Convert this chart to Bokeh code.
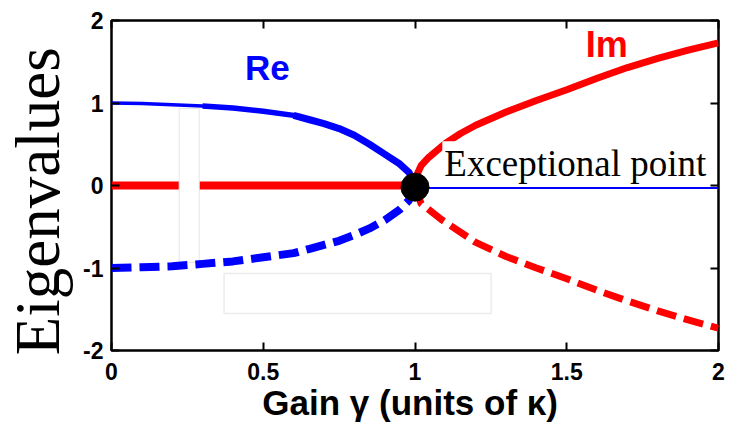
import math
from bokeh.plotting import figure
from bokeh.models import Range1d, LinearAxis, Label, FixedTicker, NumeralTickFormatter
from bokeh.embed import file_html
from bokeh.resources import INLINE

# ---- data ----
x_ticks = [0, 0.5, 1, 1.5, 2]
y_ticks = [-2, -1, 0, 1, 2]

gamma_below = [0.0, 0.1, 0.2, 0.3, 0.4, 0.5, 0.6, 0.65, 0.7, 0.75, 0.8, 0.85, 0.9, 0.95, 0.98, 1.0]
re_upper = [1.0, 0.995, 0.98, 0.965, 0.94, 0.90, 0.85, 0.80, 0.75, 0.69, 0.61, 0.50, 0.38, 0.26, 0.16, 0.0]
re_lower = [-1.0, -0.99, -0.98, -0.95, -0.92, -0.87, -0.82, -0.77, -0.72, -0.67, -0.60, -0.52, -0.42, -0.29, -0.18, 0.0]
im_below_x = [0.0, 1.0]
im_below_y = [0.0, 0.0]

im_upper_x = [1.0, 1.005, 1.02, 1.045, 1.1, 1.15, 1.2, 1.3, 1.4, 1.5, 1.6, 1.7, 1.8, 1.9, 2.0]
im_upper = [0.0, 0.12, 0.24, 0.34, 0.51, 0.63, 0.73, 0.89, 1.03, 1.16, 1.30, 1.43, 1.54, 1.64, 1.73]
im_lower_x = [1.0, 1.02, 1.09, 1.2, 1.3, 1.4, 1.5, 1.6, 1.7, 1.8, 1.9, 2.0]
im_lower = [0.0, -0.22, -0.42, -0.69, -0.86, -1.0, -1.13, -1.27, -1.40, -1.52, -1.63, -1.73]
re_above_x = [1.0, 2.0]
re_above_y = [-0.03, -0.03]

ep_x = [1.0]
ep_y = [-0.02]

BLUE = "#0000FF"
RED = "#FF0000"

p = figure(width=749, height=437, x_range=Range1d(0, 2), y_range=Range1d(-2, 2),
           output_backend="svg", toolbar_location=None,
           min_border_left=109, min_border_right=31, min_border_top=20, min_border_bottom=87)
p.grid.visible = False
p.outline_line_color = "black"
p.outline_line_width = 2.5
p.background_fill_color = "white"
p.border_fill_color = "white"

def style_axis(ax, ticks, show_labels):
    ax.ticker = FixedTicker(ticks=ticks)
    ax.formatter = NumeralTickFormatter(format="0.[0]")
    ax.major_tick_in = 8
    ax.major_tick_out = 0
    ax.minor_tick_in = 0
    ax.minor_tick_out = 0
    ax.major_tick_line_width = 2
    ax.major_tick_line_color = "black"
    ax.axis_line_color = None
    ax.major_label_text_font = "Liberation Sans"
    ax.major_label_text_font_style = "bold"
    ax.major_label_text_color = "black" if show_labels else None
    ax.major_label_text_font_size = "23px"

style_axis(p.xaxis[0], x_ticks, True)
style_axis(p.yaxis[0], y_ticks, True)
p.xaxis[0].major_label_standoff = 12
p.yaxis[0].major_label_standoff = 8

p.yaxis[0].axis_label = "Eigenvalues\u00a0\u00a0"
p.yaxis[0].axis_label_text_font = "Liberation Serif"
p.yaxis[0].axis_label_text_font_style = "normal"
p.yaxis[0].axis_label_text_font_size = "63px"
p.yaxis[0].axis_label_text_color = "black"
p.yaxis[0].axis_label_standoff = 7

p.xaxis[0].axis_label = "Gain \u03b3  (units of \u03ba)"
p.xaxis[0].axis_label_text_font = "Liberation Sans"
p.xaxis[0].axis_label_text_font_style = "bold"
p.xaxis[0].axis_label_text_font_size = "35px"
p.xaxis[0].axis_label_text_color = "black"
p.xaxis[0].axis_label_standoff = 0

top_ax = LinearAxis()
style_axis(top_ax, x_ticks, False)
top_ax.major_label_text_font_size = "1px"
p.add_layout(top_ax, "above")
right_ax = LinearAxis()
style_axis(right_ax, y_ticks, False)
right_ax.major_label_text_font_size = "1px"
p.add_layout(right_ax, "right")

# red zero line below the exceptional point
p.line(im_below_x, im_below_y, line_color=RED, line_width=8)
# white strip artefact covering the red line
p.quad(left=[0.223], right=[0.289], top=[0.933], bottom=[-0.933],
       fill_color="white", line_color="#e6e6e6", line_width=1)
# white box artefact
p.quad(left=[0.371], right=[1.251], top=[-1.067], bottom=[-1.55],
       fill_color="white", line_color="#ececec", line_width=1.5)

# upper real branch: thin at the left, thicker towards the exceptional point
p.line(gamma_below[:5], re_upper[:5], line_color=BLUE, line_width=3.5)
p.line(gamma_below[3:8], re_upper[3:8], line_color=BLUE, line_width=5.5)
p.line(gamma_below[6:], re_upper[6:], line_color=BLUE, line_width=7)
p.line(gamma_below, re_lower, line_color=BLUE, line_width=8, line_dash="20 8")
p.line(re_above_x, re_above_y, line_color=BLUE, line_width=2)
p.line(im_upper_x, im_upper, line_color=RED, line_width=7)
p.line(im_lower_x, im_lower, line_color=RED, line_width=7, line_dash="20 8")

p.scatter(ep_x, ep_y, size=28, fill_color="black", line_color="black", marker="circle")

p.add_layout(Label(x=0.44, y=1.43, text="Re", text_color=BLUE, text_font="Liberation Sans",
                   text_font_style="bold", text_font_size="35px", text_baseline="alphabetic"))
p.add_layout(Label(x=1.563, y=1.713, text="Im", text_color=RED, text_font="Liberation Sans",
                   text_font_style="bold", text_font_size="36px", text_baseline="alphabetic"))
p.add_layout(Label(x=1.09, y=0.265, text="Exceptional point", text_color="black",
                   text_font="Liberation Serif", text_font_size="37px", text_baseline="alphabetic",
                   background_fill_color="white", padding=2))

open("out.html", "w").write(file_html(p, INLINE))
